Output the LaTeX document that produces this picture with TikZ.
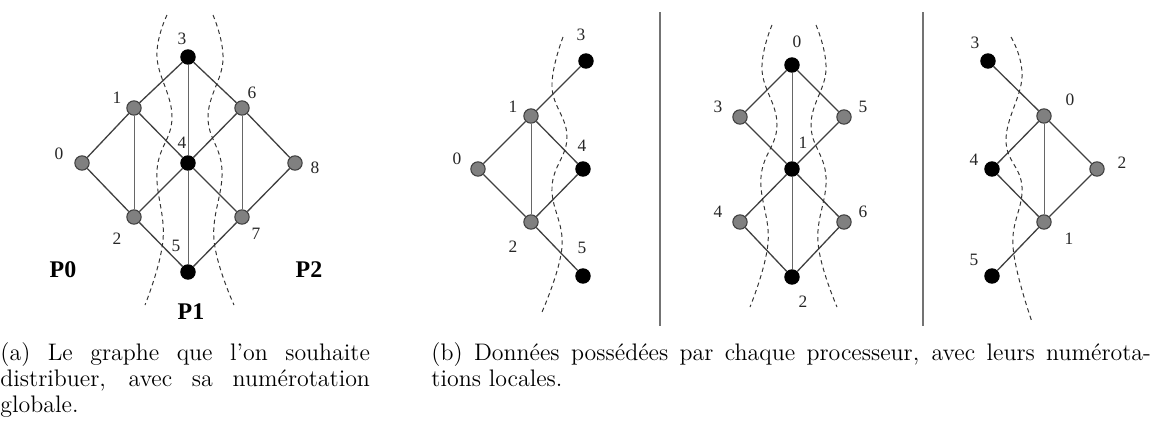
\documentclass[tikz,border=0pt]{standalone}
\usepackage{fontspec}
\newfontfamily\lblfont{Liberation Serif}
\begin{document}
\begin{tikzpicture}[x=0.46pt,y=-0.46pt,
  gn/.style={circle,fill=black!50,draw=black!75,line width=0.5pt,minimum size=6.6pt,inner sep=0pt},
  bn/.style={circle,fill=black,draw=black,line width=0.5pt,minimum size=6.6pt,inner sep=0pt},
  edge/.style={draw=black!75,line width=0.6pt},
  vedge/.style={draw=black!60,line width=0.45pt},
  cut/.style={draw=black!80,line width=0.45pt,dash pattern=on 2pt off 1.6pt},
  lbl/.style={font=\lblfont\fontsize{8}{9}\selectfont,inner sep=0pt,text=black!85},
  plbl/.style={font=\lblfont\bfseries\fontsize{11}{12}\selectfont,inner sep=0pt},
  sepline/.style={draw=black!55,line width=0.9pt},
  capt/.style={font=\fontsize{11}{11.96}\selectfont,align=left,inner sep=0pt,anchor=north west}
]
\useasboundingbox (0,0) rectangle (1155,421);

% ---------- panel (a) ----------
\node[bn] (a3) at (188,57) {};
\node[gn] (a1) at (134,108) {};
\node[gn] (a6) at (242,108) {};
\node[gn] (a0) at (82,163) {};
\node[bn] (a4) at (188,163) {};
\node[gn] (a8) at (295,163) {};
\node[gn] (a2) at (134,217) {};
\node[gn] (a7) at (242,217) {};
\node[bn] (a5) at (188,272) {};
\draw[vedge] (a3) -- (a4) (a4) -- (a5) (a1) -- (a2) (a6) -- (a7);
\draw[edge] (a3) -- (a1) (a3) -- (a6) (a1) -- (a0) (a1) -- (a4) (a6) -- (a4) (a6) -- (a8)
  (a0) -- (a2) (a4) -- (a2) (a4) -- (a7) (a8) -- (a7) (a2) -- (a5) (a7) -- (a5);
\node[lbl] (la3) at (182,39) {3};
\node[lbl] (la1) at (117,98) {1};
\node[lbl] (la6) at (252,93) {6};
\node[lbl] (la0) at (59,154) {0};
\node[lbl] (la4) at (182,143) {4};
\node[lbl] (la8) at (315,168) {8};
\node[lbl] (la2) at (117,239) {2};
\node[lbl] (la5) at (176,246) {5};
\node[lbl] (la7) at (256,234) {7};
\node[plbl] (p0) at (63,270) {P0};
\node[plbl] (p2) at (309,270) {P2};
\node[plbl] (p1) at (191,312) {P1};
\draw[cut] plot[smooth,tension=0.7] coordinates {(167,15) (157,57) (172,117) (157,170) (163,240) (145,305)};
\draw[cut] plot[smooth,tension=0.7] coordinates {(213,15) (223,60) (208,117) (222,170) (214,240) (234,305)};

% ---------- panel (b), P0 ----------
\node[bn] (b3) at (586,61) {};
\node[gn] (b1) at (531,116) {};
\node[gn] (b0) at (478,169) {};
\node[bn] (b4) at (583,169) {};
\node[gn] (b2) at (531,222) {};
\node[bn] (b5) at (583,276) {};
\draw[vedge] (b1) -- (b2);
\draw[edge] (b1) -- (b3) (b1) -- (b0) (b1) -- (b4) (b0) -- (b2) (b2) -- (b4) (b2) -- (b5);
\node[lbl] (lb3) at (581,35) {3};
\node[lbl] (lb1) at (513,107) {1};
\node[lbl] (lb0) at (457,159) {0};
\node[lbl] (lb4) at (582,146) {4};
\node[lbl] (lb2) at (513,247) {2};
\node[lbl] (lb5) at (582,248) {5};
\draw[cut] plot[smooth,tension=0.7] coordinates {(563,37) (552,87) (567,137) (552,187) (562,247) (542,312)};

\draw[sepline] (660,12) -- (660,326);

% ---------- panel (b), P1 ----------
\node[bn] (c0) at (792,65) {};
\node[gn] (c3) at (740,117) {};
\node[gn] (c5) at (844,117) {};
\node[bn] (c1) at (792,169) {};
\node[gn] (c4) at (740,222) {};
\node[gn] (c6) at (844,222) {};
\node[bn] (c2) at (792,277) {};
\draw[vedge] (c0) -- (c1) (c1) -- (c2);
\draw[edge] (c0) -- (c3) (c0) -- (c5) (c3) -- (c1) (c5) -- (c1) (c1) -- (c4) (c1) -- (c6)
  (c4) -- (c2) (c6) -- (c2);
\node[lbl] (lc0) at (797,42) {0};
\node[lbl] (lc3) at (718,107) {3};
\node[lbl] (lc5) at (863,107) {5};
\node[lbl] (lc1) at (803,143) {1};
\node[lbl] (lc4) at (718,212) {4};
\node[lbl] (lc6) at (863,212) {6};
\node[lbl] (lc2) at (803,302) {2};
\draw[cut] plot[smooth,tension=0.7] coordinates {(772,25) (762,70) (777,125) (761,177) (768,243) (750,307)};
\draw[cut] plot[smooth,tension=0.7] coordinates {(816,25) (826,70) (811,125) (826,177) (818,243) (837,307)};

\draw[sepline] (923,12) -- (923,326);

% ---------- panel (b), P2 ----------
\node[bn] (d3) at (988,61) {};
\node[gn] (d0) at (1044,116) {};
\node[bn] (d4) at (992,169) {};
\node[gn] (d2) at (1097,169) {};
\node[gn] (d1) at (1044,222) {};
\node[bn] (d5) at (992,276) {};
\draw[vedge] (d0) -- (d1);
\draw[edge] (d3) -- (d0) (d0) -- (d4) (d0) -- (d2) (d4) -- (d1) (d2) -- (d1) (d1) -- (d5);
\node[lbl] (ld3) at (975,43) {3};
\node[lbl] (ld0) at (1070,100) {0};
\node[lbl] (ld4) at (974,160) {4};
\node[lbl] (ld2) at (1122,163) {2};
\node[lbl] (ld1) at (1069,239) {1};
\node[lbl] (ld5) at (974,260) {5};
\draw[cut] plot[smooth,tension=0.7] coordinates {(1011,37) (1022,77) (1006,140) (1022,187) (1013,247) (1032,322)};

% ---------- captions ----------
\node[capt] (capa) at (0,342)
  {\makebox[170pt][s]{(a) Le graphe que l’on souhaite}\\
   \makebox[170pt][s]{distribuer, avec sa numérotation}\\
   globale.};
\node[capt] (capb) at (431,342)
  {\makebox[331pt][s]{(b) Données possédées par chaque processeur, avec leurs numérota-}\\
   tions locales.};
\end{tikzpicture}
\end{document}
